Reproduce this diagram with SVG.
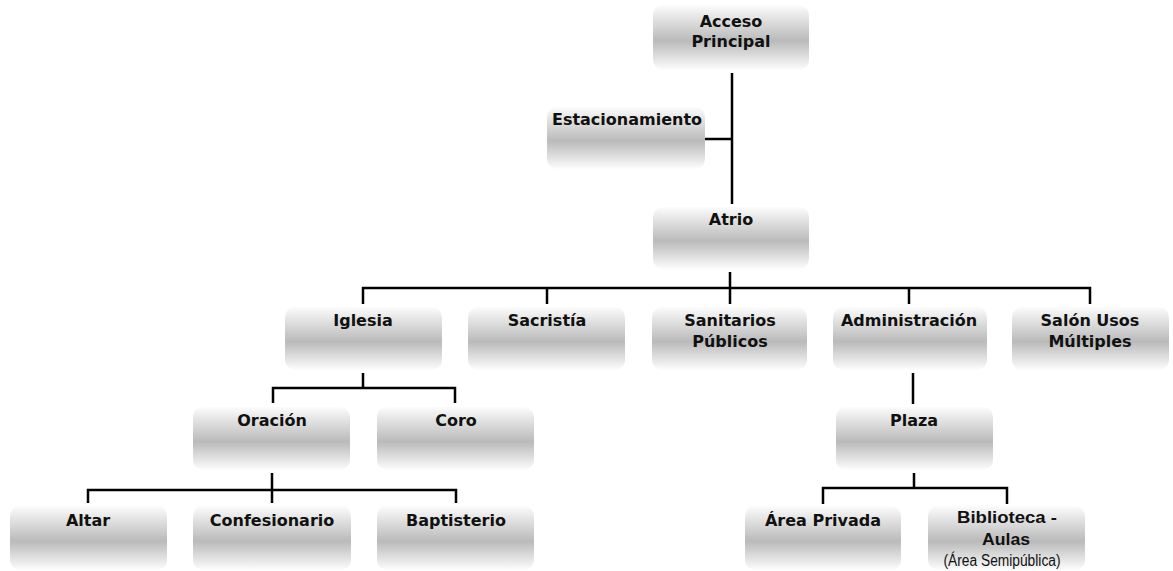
<svg xmlns="http://www.w3.org/2000/svg" width="1173" height="571" viewBox="0 0 1173 571">
<style>
.box{fill:url(#g);}
.t{font-family:"DejaVu Sans","Liberation Sans",sans-serif;font-weight:bold;font-size:16px;fill:#111;text-anchor:middle;}
.a{font-family:"Liberation Sans",Arial,sans-serif;font-weight:bold;font-size:16px;fill:#111;text-anchor:middle;}
.n{font-family:"Liberation Sans Narrow","Liberation Sans",Arial,sans-serif;font-size:16px;fill:#111;text-anchor:middle;}
.c{fill:none;stroke:#000;stroke-width:2.5;stroke-linejoin:miter;}
</style>
<defs>
<linearGradient id="g" x1="0" y1="0" x2="0" y2="1">
<stop offset="0" stop-color="#fcfcfc"/>
<stop offset="0.55" stop-color="#bababa"/>
<stop offset="1" stop-color="#fdfdfd"/>
</linearGradient>
</defs>
<rect width="1173" height="571" fill="#fff"/>
<g id="connectors">
<path class="c" d="M732 73V204M705 139H732"/>
<path class="c" d="M730 272V304M363 304V288H1090V304M547 288V304M909 288V304"/>
<path class="c" d="M363 373V388M273 403V388H455V403"/>
<path class="c" d="M272 473V503M88 503V490H456V503"/>
<path class="c" d="M913 373V404"/>
<path class="c" d="M914 473V488M823 504V488H1007V504"/>
</g>
<g id="acceso"><rect class="box" x="653" y="5" width="156" height="65" rx="10"/><text class="t" x="731" y="27">Acceso</text><text class="t" x="731" y="47">Principal</text></g>
<g id="estacionamiento"><rect class="box" x="547" y="107" width="158" height="62" rx="10"/><text class="t" x="627" y="125">Estacionamiento</text></g>
<g id="atrio"><rect class="box" x="653" y="207" width="156" height="62" rx="10"/><text class="t" x="731" y="225">Atrio</text></g>
<g id="iglesia"><rect class="box" x="285" y="307" width="157" height="63" rx="10"/><text class="t" x="363" y="326">Iglesia</text></g>
<g id="sacristia"><rect class="box" x="468" y="307" width="157" height="63" rx="10"/><text class="t" x="547" y="326">Sacristía</text></g>
<g id="sanitarios"><rect class="box" x="652" y="307" width="155" height="63" rx="10"/><text class="t" x="730" y="326">Sanitarios</text><text class="t" x="730" y="347">Públicos</text></g>
<g id="administracion"><rect class="box" x="833" y="307" width="154" height="63" rx="10"/><text class="t" x="909" y="326">Administración</text></g>
<g id="salon"><rect class="box" x="1012" y="307" width="157" height="63" rx="10"/><text class="t" x="1090" y="326">Salón Usos</text><text class="t" x="1090" y="347">Múltiples</text></g>
<g id="oracion"><rect class="box" x="193" y="407" width="157" height="63" rx="10"/><text class="t" x="272" y="426">Oración</text></g>
<g id="coro"><rect class="box" x="377" y="407" width="157" height="63" rx="10"/><text class="t" x="456" y="426">Coro</text></g>
<g id="plaza"><rect class="box" x="836" y="407" width="157" height="63" rx="10"/><text class="t" x="914" y="426">Plaza</text></g>
<g id="altar"><rect class="box" x="10" y="506" width="157" height="64" rx="10"/><text class="t" x="88" y="526">Altar</text></g>
<g id="confesionario"><rect class="box" x="193" y="506" width="158" height="64" rx="10"/><text class="t" x="272" y="526">Confesionario</text></g>
<g id="baptisterio"><rect class="box" x="377" y="506" width="157" height="64" rx="10"/><text class="t" x="456" y="526">Baptisterio</text></g>
<g id="area-privada"><rect class="box" x="745" y="506" width="156" height="64" rx="10"/><text class="t" x="823" y="526">Área Privada</text></g>
<g id="biblioteca"><rect class="box" x="928" y="506" width="157" height="64" rx="10"/><text class="a" x="1007" y="523" textLength="100" lengthAdjust="spacingAndGlyphs">Biblioteca -</text><text class="a" x="1006" y="545" textLength="48" lengthAdjust="spacingAndGlyphs">Aulas</text><text class="n" x="1002" y="566" textLength="117" lengthAdjust="spacingAndGlyphs">(Área Semipública)</text></g>
</svg>
